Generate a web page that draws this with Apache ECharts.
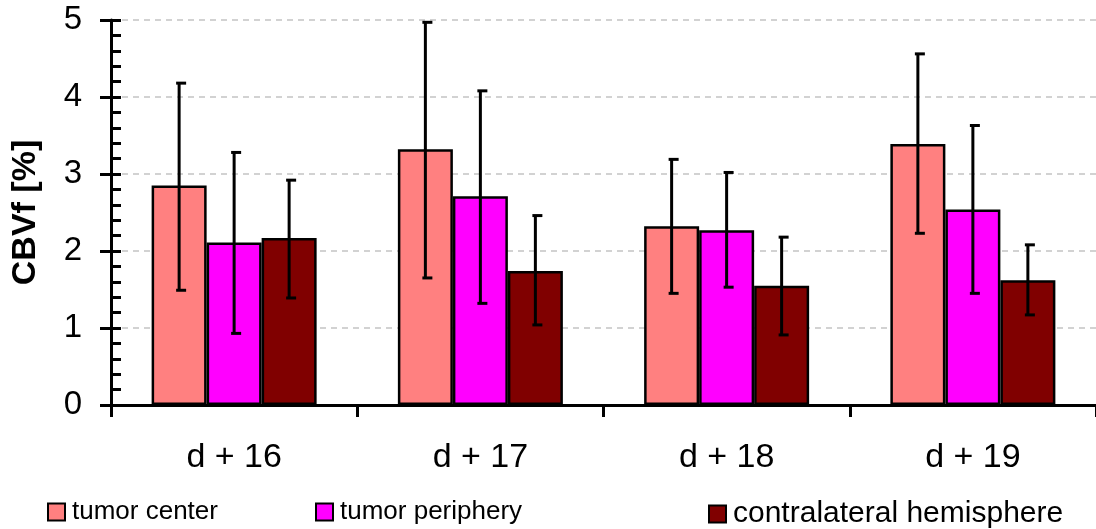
<!DOCTYPE html>
<html>
<head>
<meta charset="utf-8">
<script src="https://cdn.jsdelivr.net/npm/echarts@6/dist/echarts.min.js"></script>
<style>
  html, body { margin: 0; padding: 0; background: #fff; }
  #chart { width: 1096px; height: 529px; }
</style>
</head>
<body>
<div id="chart"></div>
<script>
const categories = ["d + 16", "d + 17", "d + 18", "d + 19"];

const centerMean = [2.85, 3.32, 2.32, 3.39];
const centerLow = [1.49, 1.65, 1.45, 2.23];
const centerHigh = [4.18, 4.97, 3.19, 4.56];

const peripheryMean = [2.11, 2.71, 2.27, 2.54];
const peripheryLow = [0.93, 1.32, 1.53, 1.45];
const peripheryHigh = [3.28, 4.08, 3.02, 3.63];

const contraMean = [2.17, 1.74, 1.55, 1.62];
const contraLow = [1.39, 1.04, 0.91, 1.17];
const contraHigh = [2.92, 2.46, 2.18, 2.08];

const seriesNames = ["tumor center", "tumor periphery", "contralateral hemisphere"];
const seriesColors = ["#FF8080", "#FF00FF", "#800000"];

const FONT = "Liberation Sans, Arial, sans-serif";
const BAR_W = 55;

const chart = echarts.init(document.getElementById("chart"), null, { renderer: "canvas" });

function barSerie(name, data, color) {
  return {
    name: name,
    type: "bar",
    data: data,
    barWidth: BAR_W,
    barGap: "0%",
    itemStyle: { color: color, borderColor: "#000", borderWidth: 2.5 },
    emphasis: { disabled: true },
    z: 2,
  };
}

// error bars: vertical line at the bar centre, short cap mostly to the right
function errorSerie(low, high, slot) {
  return {
    type: "custom",
    data: low.map((v, i) => [i, v, high[i]]),
    encode: { x: 0, y: [1, 2] },
    z: 5,
    silent: true,
    renderItem: (params, api) => {
      const cat = api.value(0);
      const lo = api.coord([cat, api.value(1)]);
      const hi = api.coord([cat, api.value(2)]);
      const x = lo[0] + (slot - 1) * BAR_W;
      const st = { stroke: "#000", lineWidth: 3 };
      return {
        type: "group",
        children: [
          { type: "line", shape: { x1: x, y1: lo[1], x2: x, y2: hi[1] }, style: st },
          { type: "line", shape: { x1: x - 3, y1: lo[1], x2: x + 7, y2: lo[1] }, style: st },
          { type: "line", shape: { x1: x - 3, y1: hi[1], x2: x + 7, y2: hi[1] }, style: st },
        ],
      };
    },
  };
}

function legendAt(name, left, size) {
  return {
    data: [name],
    left: left,
    top: 494,
    icon: "rect",
    itemWidth: 17,
    itemHeight: 17,
    itemGap: 0,
    itemStyle: { borderColor: "#000", borderWidth: 2 },
    textStyle: { fontFamily: FONT, fontSize: size, color: "#000", padding: [0, 0, 0, 2] },
    selectedMode: false,
  };
}

const yBase = {
  type: "value",
  min: 0,
  max: 5,
  interval: 1,
  position: "left",
};

const option = {
  animation: false,
  backgroundColor: "#fff",
  grid: { left: 111, top: 20, bottom: 124, width: 993 },
  legend: [
    legendAt(seriesNames[0], 42, 26),
    legendAt(seriesNames[1], 310, 26),
    legendAt(seriesNames[2], 703, 30),
  ],
  xAxis: {
    type: "category",
    data: categories,
    axisLine: { lineStyle: { color: "#000", width: 3 } },
    axisTick: { show: true, length: 12, lineStyle: { color: "#000", width: 3 } },
    axisLabel: { fontFamily: FONT, fontSize: 34, color: "#000", margin: 36 },
  },
  yAxis: [
    {
      ...yBase,
      name: "CBVf [%]",
      nameLocation: "middle",
      nameGap: 68,
      nameTextStyle: { fontFamily: FONT, fontSize: 34, fontWeight: "bold", color: "#000" },
      axisLine: { show: true, lineStyle: { color: "#000", width: 3 } },
      axisTick: { show: true, length: 11, lineStyle: { color: "#000", width: 3 } },
      axisLabel: { fontFamily: FONT, fontSize: 33, color: "#000", margin: 29 },
      splitLine: { show: true, lineStyle: { color: "#c4c4c4", width: 1.5, type: [6, 5] } },
    },
    {
      ...yBase,
      axisLine: { show: false },
      axisTick: { show: true, inside: true, length: 10, lineStyle: { color: "#000", width: 3 } },
      minorTick: { show: true, splitNumber: 5, length: 10, lineStyle: { color: "#000", width: 3 } },
      axisLabel: { show: false },
      splitLine: { show: false },
    },
  ],
  series: [
    barSerie(seriesNames[0], centerMean, seriesColors[0]),
    barSerie(seriesNames[1], peripheryMean, seriesColors[1]),
    barSerie(seriesNames[2], contraMean, seriesColors[2]),
    errorSerie(centerLow, centerHigh, 0),
    errorSerie(peripheryLow, peripheryHigh, 1),
    errorSerie(contraLow, contraHigh, 2),
  ],
};

chart.setOption(option);
</script>
</body>
</html>
